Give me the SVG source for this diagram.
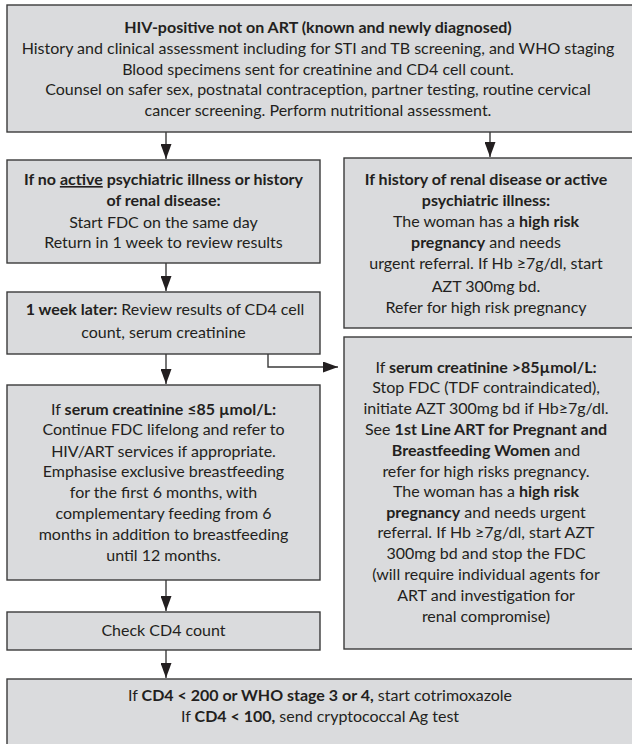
<svg xmlns="http://www.w3.org/2000/svg" width="632" height="744" viewBox="0 0 632 744">
<style>
.box{fill:#dadbdd;stroke:#3b3b3b;stroke-width:1.4}
text{font-family:Lato,"Open Sans","DejaVu Sans",sans-serif;font-size:16px;fill:#231f20;text-anchor:middle}
.b{font-weight:700}
.u{text-decoration:underline}
.con{fill:none;stroke:#3b3b3b;stroke-width:1.4}
</style>
<defs>
<marker id="ah" markerUnits="userSpaceOnUse" markerWidth="15" markerHeight="11" refX="15" refY="5.5" orient="auto" viewBox="0 0 15 11">
<path d="M0,0 L15,5.5 L0,11 z" fill="#231f20"/>
</marker>
</defs>
<rect width="632" height="744" fill="#ffffff"/>
<g id="connectors">
<path class="con" d="M166,132 V159" marker-end="url(#ah)"/>
<path class="con" d="M490,132 V157" marker-end="url(#ah)"/>
<path class="con" d="M166,263 V291" marker-end="url(#ah)"/>
<path class="con" d="M268,354 V367 H338" marker-end="url(#ah)"/>
<path class="con" d="M166,354 V384" marker-end="url(#ah)"/>
<path class="con" d="M166,580 V611" marker-end="url(#ah)"/>
<path class="con" d="M166,650 V678" marker-end="url(#ah)"/>
</g>
<g id="start">
<rect class="box" x="7" y="5" width="640" height="127"/>
<text x="318" y="33" class="b">HIV-positive not on ART (known and newly diagnosed)</text>
<text x="318" y="54">History and clinical assessment including for STI and TB screening, and WHO staging</text>
<text x="318" y="75">Blood specimens sent for creatinine and CD4 cell count.</text>
<text x="318" y="95">Counsel on safer sex, postnatal contraception, partner testing, routine cervical</text>
<text x="318" y="116">cancer screening. Perform nutritional assessment.</text>
</g>
<g id="no-illness">
<rect class="box" x="7" y="160" width="313" height="103"/>
<text x="163.5" y="185" class="b">If no <tspan class="u">active</tspan> psychiatric illness or history</text>
<text x="163.5" y="206" class="b">of renal disease:</text>
<text x="163.5" y="228">Start FDC on the same day</text>
<text x="163.5" y="248">Return in 1 week to review results</text>
</g>
<g id="renal-history">
<rect class="box" x="344" y="158" width="300" height="170"/>
<text x="486" y="185" class="b">If history of renal disease or active</text>
<text x="486" y="206" class="b">psychiatric illness:</text>
<text x="486" y="227">The woman has a <tspan class="b">high risk</tspan></text>
<text x="486" y="248"><tspan class="b">pregnancy</tspan> and needs</text>
<text x="486" y="269">urgent referral. If Hb ≥7g/dl, start</text>
<text x="486" y="292">AZT 300mg bd.</text>
<text x="486" y="313">Refer for high risk pregnancy</text>
</g>
<g id="week-later">
<rect class="box" x="7" y="292" width="313" height="62"/>
<text x="165" y="315"><tspan class="b">1 week later:</tspan>  Review results of CD4 cell</text>
<text x="163.5" y="338">count, serum creatinine</text>
</g>
<g id="creat-high">
<rect class="box" x="344" y="337" width="300" height="312"/>
<text x="486" y="373">If <tspan class="b">serum creatinine &gt;85µmol/L:</tspan></text>
<text x="486" y="393">Stop FDC (TDF contraindicated),</text>
<text x="486" y="414">initiate AZT 300mg bd if Hb≥7g/dl.</text>
<text x="486" y="435">See <tspan class="b">1st Line ART for Pregnant and</tspan></text>
<text x="486" y="456"><tspan class="b">Breastfeeding Women</tspan> and</text>
<text x="486" y="477">refer for high risks pregnancy.</text>
<text x="486" y="497">The woman has a <tspan class="b">high risk</tspan></text>
<text x="486" y="518"><tspan class="b">pregnancy</tspan> and needs urgent</text>
<text x="486" y="538">referral. If Hb ≥7g/dl, start AZT</text>
<text x="486" y="559">300mg bd and stop the FDC</text>
<text x="486" y="580">(will require individual agents for</text>
<text x="486" y="601">ART and investigation for</text>
<text x="486" y="622">renal compromise)</text>
</g>
<g id="creat-ok">
<rect class="box" x="7" y="385" width="313" height="195"/>
<text x="163.5" y="415">If <tspan class="b">serum creatinine ≤85 µmol/L:</tspan></text>
<text x="163.5" y="435">Continue FDC lifelong and refer to</text>
<text x="163.5" y="457">HIV/ART services if appropriate.</text>
<text x="163.5" y="477">Emphasise exclusive breastfeeding</text>
<text x="163.5" y="498">for the first 6 months, with</text>
<text x="163.5" y="519">complementary feeding from 6</text>
<text x="163.5" y="540">months in addition to breastfeeding</text>
<text x="163.5" y="561">until 12 months.</text>
</g>
<g id="check-cd4">
<rect class="box" x="7" y="612" width="313" height="38"/>
<text x="163.5" y="636">Check CD4 count</text>
</g>
<g id="cd4-result">
<rect class="box" x="7" y="679" width="640" height="70"/>
<text x="320" y="701">If <tspan class="b">CD4 &lt; 200 or WHO stage 3 or 4,</tspan> start cotrimoxazole</text>
<text x="320" y="722">If <tspan class="b">CD4 &lt; 100,</tspan> send cryptococcal Ag test</text>
</g>
</svg>
